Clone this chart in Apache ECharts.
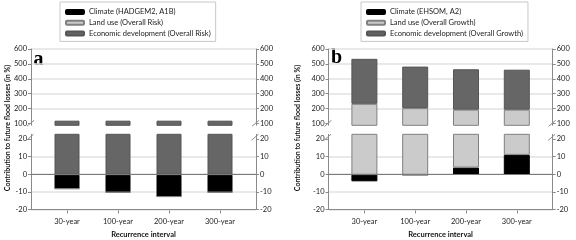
<!DOCTYPE html>
<html><head><meta charset="utf-8">
<script src="https://cdn.jsdelivr.net/npm/echarts@6/dist/echarts.min.js"></script>
<style>html,body{margin:0;padding:0;background:#fff}#c{width:576px;height:240px}</style>
</head><body><div id="c"></div>
<script>
// ---- data ----
const categories = ['30-year', '100-year', '200-year', '300-year'];
const namesA = ['Climate (HADGEM2, A1B)', 'Land use (Overall Risk)', 'Economic development (Overall Risk)'];
const namesB = ['Climate (EHSOM, A2)', 'Land use (Overall Growth)', 'Economic development (Overall Growth)'];
const climateA = [-7.8, -9.8, -12.2, -9.8];
const landUseA = [0, 0, 0, 0];
const economicA = [119, 119, 119, 119];
const climateB = [-3.7, 0, 4, 11.1];
const landUseB = [232, 203, 189, 182];
const economicB = [302, 279, 271, 268];
const upperTicks = [100, 200, 300, 400, 500, 600];
const lowerTicks = [-20, -10, 0, 10, 20];
const upperRange = [88, 600];
const lowerRange = [-20, 22.6];

// ---- layout ----
const FONT = 'Lato';
const panels = [
  {left: 31, width: 225, barWidth: 25, names: namesA, vals: [climateA, landUseA, economicA], letter: 'a'},
  {left: 328.5, width: 224.2, barWidth: 26, names: namesB, vals: [climateB, landUseB, economicB], letter: 'b'}
];
const INSET = 10.5;
const UP = {top: 49, height: 76.3};
const LO = {top: 134.3, height: 76.2};
const colors = ['#000000', '#cbcbcb', '#666666'];
const borders = ['#000000', '#808080', '#555555'];
const axisGray = '#8a8a8a';
const labelStyle = {fontSize: 7.5, fontFamily: FONT, color: '#222'};

const grid = [], xAxis = [], yAxis = [], series = [], graphic = [];

function frameY(gi, range, ticks, pos, isUpper) {
  return {
    type: 'value', gridIndex: gi, position: pos, min: range[0], max: range[1],
    axisLine: {show: true, onZero: false, lineStyle: {color: axisGray, width: 1}},
    axisTick: {show: true, length: 3, customValues: ticks, lineStyle: {color: axisGray}},
    axisLabel: Object.assign({customValues: ticks, margin: 4}, labelStyle),
    splitLine: {show: pos === 'left', showMinLine: !isUpper, showMaxLine: isUpper,
      lineStyle: {color: '#e2e2e2', width: 1.5}}
  };
}

panels.forEach((p, pi) => {
  [['U', UP], ['L', LO]].forEach(([sec, box]) => {
    const isUpper = sec === 'U';
    const range = isUpper ? upperRange : lowerRange;
    const ticks = isUpper ? upperTicks : lowerTicks;
    // frame grid (axes, gridlines)
    const gf = grid.length;
    grid.push({left: p.left, width: p.width, top: box.top, height: box.height});
    if (isUpper) {
      xAxis.push({type: 'value', gridIndex: gf, min: 0, max: 1, show: false});
    } else {
      xAxis.push({type: 'value', gridIndex: gf, min: 0, max: 1, position: 'bottom',
        axisLine: {show: true, onZero: false, lineStyle: {color: axisGray}},
        axisTick: {show: false}, axisLabel: {show: false}, splitLine: {show: false},
        name: 'Recurrence interval', nameLocation: 'middle', nameGap: 21.5,
        nameTextStyle: {fontSize: 7.5, fontWeight: 'bold', fontFamily: FONT, color: '#111'}});
    }
    const yLeft = yAxis.length;
    yAxis.push(frameY(gf, range, ticks, 'left', isUpper));
    yAxis.push(frameY(gf, range, ticks, 'right', isUpper));
    if (!isUpper) {
      // zero line
      xAxis.push({type: 'value', gridIndex: gf, min: 0, max: 1, position: 'top',
        axisLine: {show: true, onZero: true, onZeroAxisIndex: yLeft, lineStyle: {color: '#7a7a7a', width: 1}},
        axisTick: {show: false}, axisLabel: {show: false}, splitLine: {show: false}, z: 5});
    }
    // bar grid
    const gb = grid.length;
    grid.push({left: p.left + INSET, width: p.width - 2 * INSET, top: box.top, height: box.height});
    const xb = xAxis.length;
    xAxis.push({
      type: 'category', gridIndex: gb, data: categories, boundaryGap: true, show: !isUpper,
      axisLine: {show: false, onZero: false},
      axisTick: {show: true, alignWithLabel: true, length: 3, lineStyle: {color: axisGray}},
      axisLabel: Object.assign({margin: 7, interval: 0}, labelStyle),
      splitLine: {show: false}
    });
    const yb = yAxis.length;
    yAxis.push({type: 'value', gridIndex: gb, min: range[0], max: range[1], show: false,
      axisLine: {onZero: false}, splitLine: {show: false}});
    p.names.forEach((nm, k) => {
      series.push({
        type: 'bar', name: nm, xAxisIndex: xb, yAxisIndex: yb, stack: 'st' + pi + sec,
        barWidth: p.barWidth, clip: true, data: p.vals[k],
        itemStyle: {color: colors[k], borderColor: borders[k], borderWidth: 1},
        emphasis: {disabled: true}, animation: false
      });
    });
  });

  // break marks
  [p.left, p.left + p.width].forEach(ax => {
    [[ax - 0.5, UP.top + UP.height - 2], [ax - 1, LO.top + 3]].forEach(([cx, cy]) => {
      graphic.push({type: 'line', silent: true,
        shape: {x1: cx - 3.5, y1: cy + 3, x2: cx + 3.5, y2: cy - 3},
        style: {stroke: '#8a8a8a', lineWidth: 1}});
    });
  });
  // panel letter
  graphic.push({type: 'text', silent: true, x: p.left + 2.5, y: pi === 0 ? 50 : 48,
    style: {text: p.letter, font: 'bold 20px "Liberation Serif"', fill: '#000', textVerticalAlign: 'top'}});
  // y title
  graphic.push({type: 'text', silent: true, x: pi === 0 ? 8 : 298, y: 128, rotation: Math.PI / 2,
    style: {text: 'Contribution to future flood losses (in %)', font: 'bold 7px ' + FONT, fill: '#111',
      textAlign: 'center', textVerticalAlign: 'middle'}});
});

const legend = panels.map((p, pi) => ({
  data: p.names, orient: 'vertical', left: pi === 0 ? 60 : 361, top: 2,
  padding: [5, 5, 3, 5], itemWidth: 18, itemHeight: 4, itemGap: 0.7,
  borderColor: '#c8c8c8', borderWidth: 1, selectedMode: false,
  textStyle: {fontSize: 7.5, fontFamily: FONT, color: '#222', lineHeight: 10}
}));

const chart = echarts.init(document.getElementById('c'), null, {renderer: 'canvas'});
chart.setOption({animation: false, textStyle: {fontFamily: FONT}, grid, xAxis, yAxis, series, legend, graphic});
</script></body></html>
